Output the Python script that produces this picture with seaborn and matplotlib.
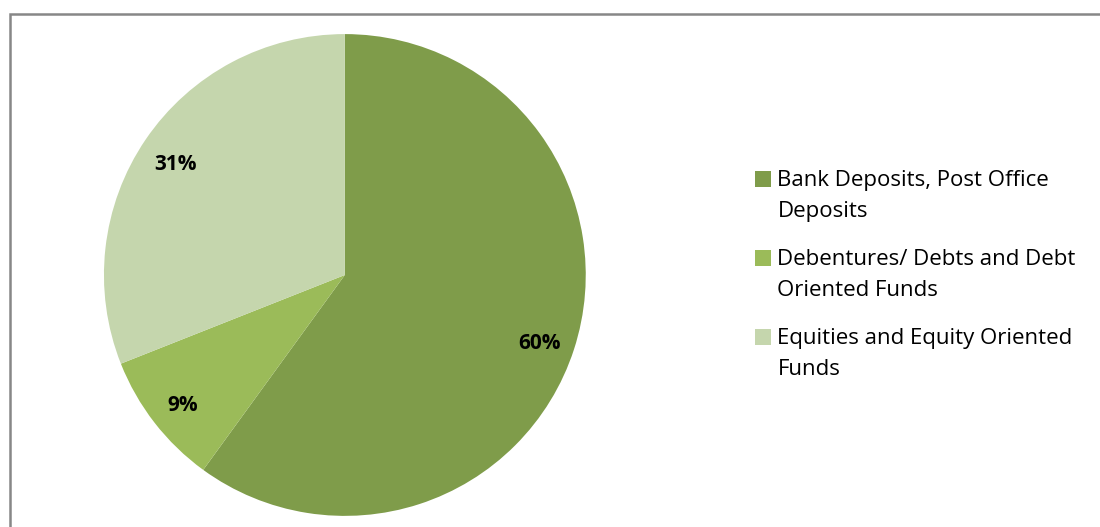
import matplotlib
matplotlib.use("Agg")
import matplotlib.pyplot as plt
import matplotlib.transforms as mtransforms
from matplotlib.patches import Rectangle, Patch
from matplotlib.legend_handler import HandlerPatch
import seaborn as sns

sns.set_theme(style="white")
plt.rcParams['font.family'] = ['Open Sans', 'DejaVu Sans']

categories = [
    "Bank Deposits, Post Office\nDeposits",
    "Debentures/ Debts and Debt\nOriented Funds",
    "Equities and Equity Oriented\nFunds",
]
shares = [60, 9, 31]
colors = ["#7F9C4A", "#9BBB59", "#C5D6AD"]

LEG_FS = 16
LINE_SP = 1.65


class FirstLinePatch(HandlerPatch):
    """Legend key aligned with the first line of a two-line label."""

    def __init__(self, shift, **kw):
        super().__init__(**kw)
        self.shift = shift

    def create_artists(self, legend, orig_handle, xdescent, ydescent,
                       width, height, fontsize, trans):
        side = min(width, height)
        p = Rectangle((-xdescent, -ydescent + (height - side) / 2 + self.shift),
                      side, side, facecolor=orig_handle.get_facecolor(),
                      edgecolor="none", transform=trans)
        return [p]


fig = plt.figure(figsize=(11, 5.27), dpi=100)
ax = fig.add_axes([0.0945, 0.0209, 0.438, 0.9146])

wedges, texts, autotexts = ax.pie(
    shares,
    colors=colors,
    startangle=90,
    counterclock=False,
    autopct=lambda p: f"{p:.0f}%",
    pctdistance=0.85,
    wedgeprops=dict(linewidth=0),
    textprops=dict(fontsize=15, fontweight="bold", color="black"),
)
# nudge the percentage labels down a little so the digits sit centred
for t in autotexts:
    t.set_transform(mtransforms.offset_copy(t.get_transform(), fig=fig,
                                            x=0, y=-5, units="dots"))
ax.set_aspect("equal")
ax.set_xlim(-1, 1)
ax.set_ylim(-1, 1)
ax.axis("off")

handles = [Patch(facecolor=c, edgecolor="none") for c in colors]
shift = 0.5 * LINE_SP * LEG_FS * 0.95
leg = fig.legend(
    handles, categories,
    loc="upper left",
    bbox_to_anchor=(0.676, 0.699),
    frameon=False,
    fontsize=LEG_FS,
    handlelength=0.72,
    handleheight=0.72,
    handletextpad=0.3,
    labelspacing=1.2,
    borderpad=0,
    handler_map={Patch: FirstLinePatch(shift)},
)
for t in leg.get_texts():
    t.set_color("black")
    t.set_linespacing(LINE_SP)

# chart-area frame, running off the right and bottom edges
fig.add_artist(Rectangle((10 / 1100, -0.1), 1.2, 1 - 14 / 527 + 0.1,
                         transform=fig.transFigure, fill=False,
                         edgecolor="#878787", linewidth=1.8, clip_on=False))

fig.savefig("out.png", dpi=100)
